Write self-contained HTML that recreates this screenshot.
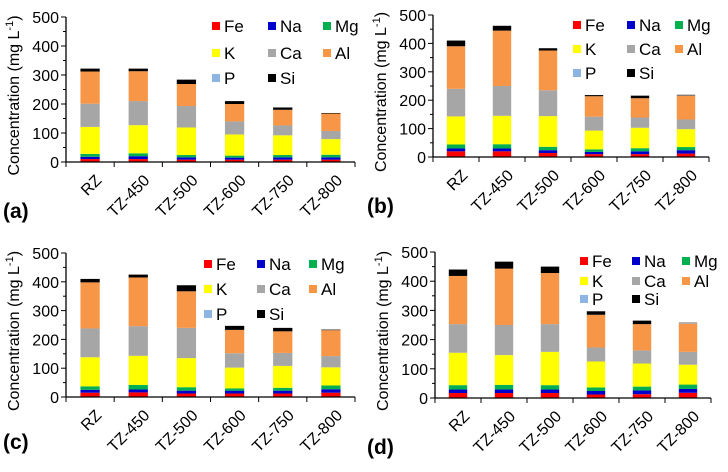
<!DOCTYPE html>
<html><head><meta charset="utf-8"><style>
html,body{margin:0;padding:0;background:#fff}
svg{display:block;font-family:"Liberation Sans",Arial,sans-serif}
</style></head><body>
<svg id="c" width="728" height="472" viewBox="0 0 728 472"></svg>
<script>
const categories=["RZ","TZ-450","TZ-500","TZ-600","TZ-750","TZ-800"];
const elements=["Fe","Na","Mg","K","Ca","Al","P","Si"];
const colors=["#ff0000","#0000cc","#00b050","#ffff00","#a6a6a6","#f79646","#8db4e2","#000000"];
const yTicks=[0,100,200,300,400,500];
const dataA=[[10,8,10,93,80,111,0,10],[10,10,10,97,83,103,0,9],[8,8,8,95,74,76,0,15],[8,7,7,73,45,60,0,10],[8,8,8,68,34,54,0,8],[8,8,9,54,28,60,0,2]];
const dataB=[[20,10,14,99,97,150,0,20],[20,10,15,100,105,195,0,17],[14,10,12,108,91,140,0,8],[10,8,9,66,49,72,0,4],[10,10,11,72,36,68,0,9],[12,12,11,63,34,84,1,2]];
const dataC=[[15,10,12,101,100,160,0,12],[16,10,16,101,103,169,0,10],[12,10,12,101,105,127,0,21],[12,10,8,72,50,81,0,14],[12,10,10,76,45,75,0,12],[15,12,13,63,39,90,0,2]];
const dataD=[[17,12,15,111,98,165,0,22],[17,12,16,102,103,193,0,24],[17,12,15,114,95,175,0,22],[12,12,12,89,48,112,0,12],[13,13,13,79,45,90,0,12],[18,13,15,68,44,97,2,1]];
const panelLabels=["(a)","(b)","(c)","(d)"];

const NS="http://www.w3.org/2000/svg";
const svg=document.getElementById('c');
function mk(tag,attrs,parent){const e=document.createElementNS(NS,tag);for(const k in attrs)e.setAttribute(k,attrs[k]);(parent||svg).appendChild(e);return e;}

const panels=[
 {data:dataA,ox:66,y0:162,yTop:17,xEnd:355,lab:[3,218],leg:{xs:[216,272,327],ys:[26,53,78]},title:14},
 {data:dataB,ox:433,y0:157,yTop:15,xEnd:709,lab:[367,213],leg:{xs:[577,631,679],ys:[25,49,73]},title:381},
 {data:dataC,ox:66,y0:397,yTop:253,xEnd:355,lab:[3,449],leg:{xs:[208,261,313],ys:[264,289,314]},title:14},
 {data:dataD,ox:435,y0:398,yTop:252,xEnd:711,lab:[367,454],leg:{xs:[584,636,686],ys:[261,281,299]},title:383}
];

panels.forEach((p,pi)=>{
 const g=mk('g',{});
 
 
 const y=v=>p.y0-(v/500)*(p.y0-p.yTop);
 const bandW=(p.xEnd-p.ox)/categories.length;
 const x=i=>p.ox+bandW*(i+0.5);
 const barW=bandW*0.4;
 p.data.forEach((row,ci)=>{
  let cum=0;
  row.forEach((v,ei)=>{
   if(v<=0){return;}
   const r=mk('rect',{x:x(ci)-barW/2,y:y(cum+v),width:barW,height:y(cum)-y(cum+v),fill:colors[ei]},g);
   
   
   cum+=v;
  });
 });
 const ya=mk('line',{x1:p.ox,y1:p.yTop,x2:p.ox,y2:p.y0,stroke:'#000','stroke-width':1.3},g);
 
 const xa=mk('line',{x1:p.ox,y1:p.y0,x2:p.xEnd,y2:p.y0,stroke:'#000','stroke-width':1.3},g);
 
 yTicks.forEach(t=>{
  mk('line',{x1:p.ox-5,y1:y(t),x2:p.ox,y2:y(t),stroke:'#000','stroke-width':1},g);
  if(t<500) mk('line',{x1:p.ox-3,y1:y(t+50),x2:p.ox,y2:y(t+50),stroke:'#000','stroke-width':1},g);
  const tl=mk('text',{x:p.ox-7,y:y(t)+6,'text-anchor':'end','font-size':16,fill:'#000'},g);
  tl.textContent=t;
  
 });
 for(let i=0;i<=categories.length;i++){
  mk('line',{x1:p.ox+bandW*i,y1:p.y0,x2:p.ox+bandW*i,y2:p.y0+5,stroke:'#000','stroke-width':1},g);
 }
 categories.forEach((c,ci)=>{
  const cx=x(ci)+5, cy=p.y0+12;
  const tl=mk('text',{x:cx,y:cy,'text-anchor':'end','font-size':16,fill:'#000',transform:`rotate(-45 ${cx} ${cy})`,'dominant-baseline':'hanging'},g);
  tl.textContent=c;
  
 });
 const ty=(p.y0+p.yTop)/2+6;
 const tt=mk('text',{x:p.title+5,y:ty,'text-anchor':'middle','font-size':16,fill:'#000',transform:`rotate(-90 ${p.title+5} ${ty})`},g);
 tt.innerHTML='Concentration (mg L<tspan font-size="11" dy="-6">-1</tspan><tspan dy="6">)</tspan>';
 
 const pl=mk('text',{x:p.lab[0],y:p.lab[1],'font-size':21,'font-weight':'bold',fill:'#000'},g);
 pl.textContent=panelLabels[pi];
 
 const lg=mk('g',{},g);
 
 elements.forEach((el,ei)=>{
  const lx=p.leg.xs[ei%3], ly=p.leg.ys[Math.floor(ei/3)];
  const eg=mk('g',{},lg);
  
  
  mk('rect',{x:lx-4,y:ly-4,width:8,height:8,fill:colors[ei]},eg);
  const t=mk('text',{x:lx+8,y:ly+6,'font-size':17,fill:'#000'},eg);
  t.textContent=el;
 });
});
</script>
</body></html>
